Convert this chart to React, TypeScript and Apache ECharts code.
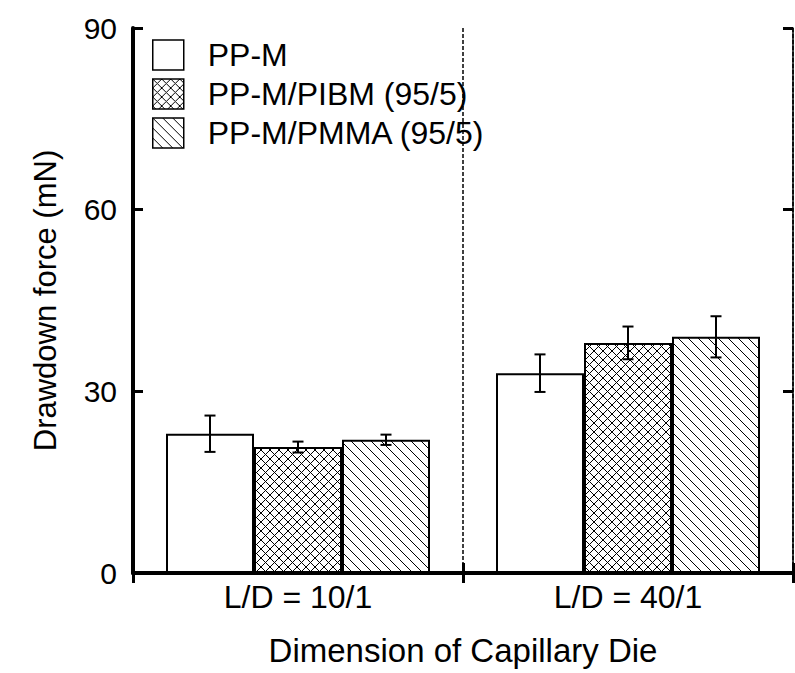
import React, { useEffect, useRef } from "react";
import * as echarts from "echarts";

const categories = ["L/D = 10/1", "L/D = 40/1"];
const seriesNames = ["PP-M", "PP-M/PIBM (95/5)", "PP-M/PMMA (95/5)"];
const ppmValues = [23, 33];
const ppmErrors = [3, 3.1];
const pibmValues = [20.8, 38];
const pibmErrors = [0.9, 2.7];
const pmmaValues = [22, 39];
const pmmaErrors = [0.85, 3.4];
const yTicks = [0, 30, 60, 90];

const FONT = "'Liberation Sans', Arial, Helvetica, sans-serif";

function makeHatch(kind: "cross" | "back", size: number) {
  const c = document.createElement("canvas");
  c.width = size;
  c.height = size;
  const ctx = c.getContext("2d")!;
  ctx.fillStyle = "#ffffff";
  ctx.fillRect(0, 0, size, size);
  ctx.fillStyle = "#000000";
  for (let i = 0; i < size; i++) {
    ctx.fillRect(i, i, 1, 1);
    if (kind === "cross") ctx.fillRect(size - 1 - i, i, 1, 1);
  }
  return {
    image: c.toDataURL(),
    repeat: "repeat",
    imageWidth: size,
    imageHeight: size,
  };
}

export default function App() {
  const ref = useRef<HTMLDivElement>(null);

  useEffect(() => {
    if (!ref.current) return;
    const chart = echarts.init(ref.current, undefined, { renderer: "svg" });

    const values = [ppmValues, pibmValues, pmmaValues];
    const errors = [ppmErrors, pibmErrors, pmmaErrors];
    const fills: any[] = ["#ffffff", makeHatch("cross", 9), makeHatch("back", 10)];

    const barSeries = seriesNames.map((name, k) => ({
      name,
      type: "bar",
      data: values[k],
      barGap: "0%",
      barCategoryGap: "20%",
      itemStyle: { color: fills[k], borderColor: "#000", borderWidth: 2 },
      z: 2,
    }));

    const errSeries = seriesNames.map((name, k) => ({
      name: name + " error",
      type: "custom",
      data: values[k].map((v, i) => [i, v - errors[k][i], v + errors[k][i]]),
      encode: { x: 0, y: [1, 2] },
      z: 5,
      silent: true,
      renderItem: (params: any, api: any) => {
        const cat = api.value(0);
        const lo = api.value(1);
        const hi = api.value(2);
        const band = api.size([1, 0])[0];
        const bw = (band * 0.8) / 3;
        const x = api.coord([cat, 0])[0] + (k - 1) * bw;
        const yHi = api.coord([cat, hi])[1];
        const yLo = api.coord([cat, lo])[1];
        const cap = 5.5;
        const st = { stroke: "#000", lineWidth: 2 };
        return {
          type: "group",
          children: [
            { type: "line", shape: { x1: x, y1: yHi, x2: x, y2: yLo }, style: st },
            { type: "line", shape: { x1: x - cap, y1: yHi, x2: x + cap, y2: yHi }, style: st },
            { type: "line", shape: { x1: x - cap, y1: yLo, x2: x + cap, y2: yLo }, style: st },
          ],
        };
      },
    }));

    chart.setOption({
      animation: false,
      backgroundColor: "#ffffff",
      textStyle: { fontFamily: FONT, color: "#000" },
      grid: { left: 133, right: 2, top: 28, bottom: 100, containLabel: false },
      legend: {
        data: seriesNames,
        orient: "vertical",
        left: 152,
        top: 39,
        padding: 0,
        itemWidth: 31,
        itemHeight: 30,
        itemGap: 7,
        icon: "rect",
        itemStyle: { borderColor: "#000", borderWidth: 1.5 },
        textStyle: {
          fontFamily: FONT,
          fontSize: 32,
          color: "#000",
          lineHeight: 30,
          padding: [0, 0, 0, 19],
        },
      },
      xAxis: [
        {
          type: "category",
          data: categories,
          position: "bottom",
          name: "Dimension of Capillary Die",
          nameLocation: "middle",
          nameGap: 61,
          nameTextStyle: { fontFamily: FONT, fontSize: 33, color: "#000" },
          axisLine: { show: true, lineStyle: { color: "#000", width: 4 } },
          axisTick: { show: true, inside: true, length: 10, lineStyle: { color: "#000", width: 3 } },
          axisLabel: { fontFamily: FONT, fontSize: 32, color: "#000", margin: 8 },
          splitLine: { show: true, lineStyle: { color: "#000", width: 1.5, type: [4, 2] } },
        },
        {
          type: "category",
          data: categories,
          position: "top",
          axisLine: { show: true, lineStyle: { color: "#000", width: 3 } },
          axisTick: { show: true, inside: true, length: 10, lineStyle: { color: "#000", width: 3 } },
          axisLabel: { show: false },
          splitLine: { show: false },
        },
      ],
      yAxis: [
        {
          type: "value",
          min: yTicks[0],
          max: yTicks[yTicks.length - 1],
          interval: 30,
          position: "left",
          name: "Drawdown force (mN)",
          nameLocation: "middle",
          nameGap: 72,
          nameTextStyle: { fontFamily: FONT, fontSize: 31, color: "#000" },
          axisLine: { show: true, lineStyle: { color: "#000", width: 4 } },
          axisTick: { show: true, inside: true, length: 10, lineStyle: { color: "#000", width: 3 } },
          axisLabel: { fontFamily: FONT, fontSize: 30, color: "#000", margin: 16 },
          splitLine: { show: false },
        },
        {
          type: "value",
          min: yTicks[0],
          max: yTicks[yTicks.length - 1],
          interval: 30,
          position: "right",
          axisLine: { show: true, lineStyle: { color: "#000", width: 1.5 } },
          axisTick: { show: true, inside: true, length: 10, lineStyle: { color: "#000", width: 3 } },
          axisLabel: { show: false },
          splitLine: { show: false },
        },
      ],
      series: [...barSeries, ...errSeries],
    });

    return () => chart.dispose();
  }, []);

  return (
    <div
      ref={ref}
      style={{ position: "fixed", left: 0, top: 0, width: 795, height: 673, background: "#fff" }}
    />
  );
}
